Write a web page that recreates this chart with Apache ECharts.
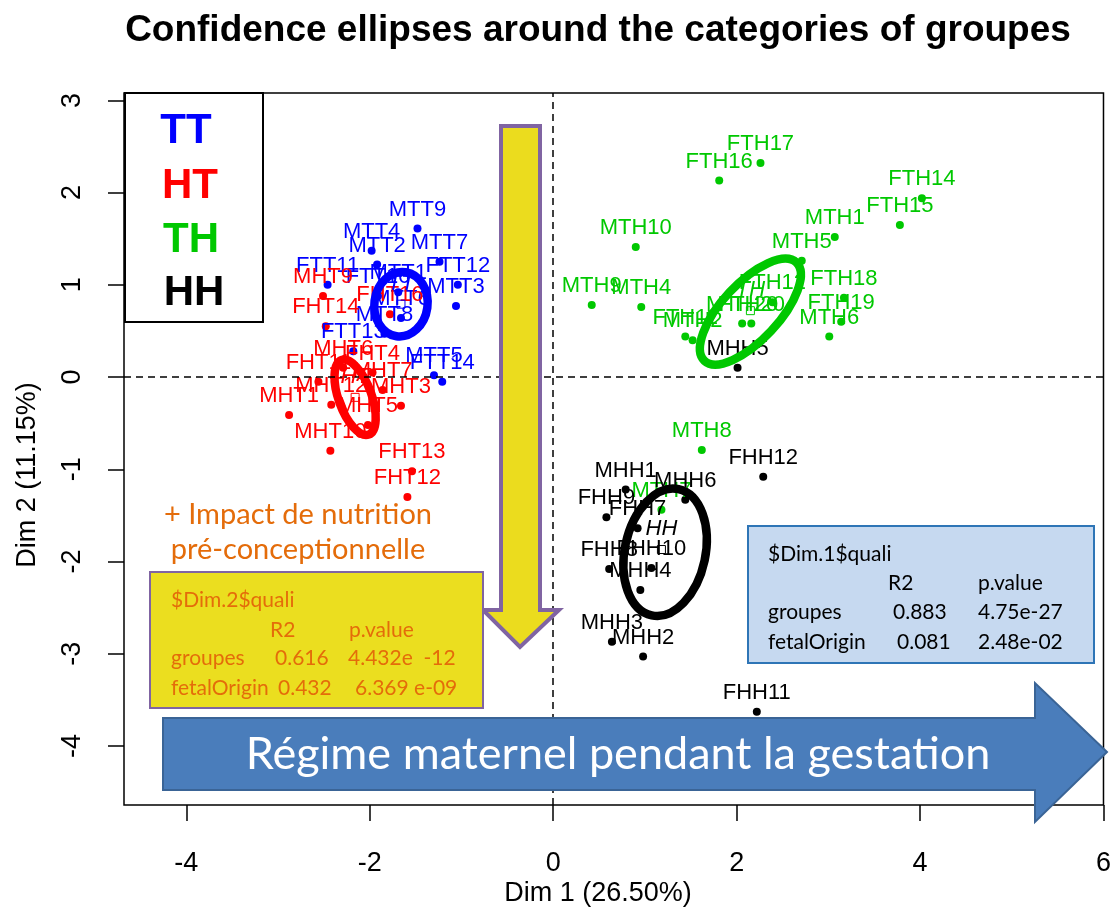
<!DOCTYPE html>
<html>
<head>
<meta charset="utf-8">
<script src="https://cdn.jsdelivr.net/npm/echarts@6/dist/echarts.min.js"></script>
<style>html,body{margin:0;padding:0;background:#fff;}#chart{width:1114px;height:911px;}</style>
</head>
<body>
<div id="chart"></div>
<script>
// ---------- DATA ----------
const xTicks = [-4, -2, 0, 2, 4, 6];
const yTicks = [-4, -3, -2, -1, 0, 1, 2, 3];
const groupNames = ['TT', 'HT', 'TH', 'HH'];

const ttNames = ['MTT9','MTT4','MTT2','MTT7','FTT12','FTT11','FTT10','MTT1','MTT3','MTT6','MTT8','FTT13','MTT5','FTT14'];
const ttX = [-1.48,-1.98,-1.92,-1.24,-1.04,-2.46,-1.91,-1.69,-1.06,-1.66,-1.84,-2.18,-1.30,-1.21];
const ttY = [1.61,1.37,1.22,1.25,1.00,1.00,0.88,0.92,0.77,0.64,0.47,0.28,0.02,-0.05];

const htNames = ['MHT9','FHT14','FHT16','MHT6','FHT4','FHT11','MHT7','MHT12','MHT3','MHT1','MHT5','MHT10','FHT13','FHT12'];
const htX = [-2.51,-2.48,-1.78,-2.29,-1.97,-2.56,-1.86,-2.42,-1.66,-2.88,-2.02,-2.43,-1.54,-1.59];
const htY = [0.88,0.55,0.68,0.10,0.05,-0.05,-0.14,-0.30,-0.31,-0.41,-0.52,-0.80,-1.02,-1.30];

const thNames = ['FTH17','FTH16','FTH14','FTH15','MTH1','MTH10','MTH5','FTH18','FTH19','MTH6','MTH9','MTH4','MTH2','FTH11','FTH12','MTH20','FTH20','MTH8','MTH7'];
const thX = [2.26,1.81,4.02,3.78,3.07,0.90,2.71,3.17,3.14,3.01,0.42,0.96,1.52,1.44,2.39,2.06,2.16,1.62,1.18];
const thY = [2.32,2.13,1.94,1.65,1.52,1.41,1.26,0.86,0.60,0.44,0.78,0.76,0.40,0.44,0.81,0.58,0.58,-0.79,-1.44];

const hhNames = ['MHH5','FHH12','MHH1','MHH6','FHH9','FHH7','FHH8','FHH10','MHH4','MHH3','MHH2','FHH11'];
const hhX = [2.01,2.29,0.79,1.44,0.58,0.92,0.61,1.07,0.95,0.64,0.98,2.22];
const hhY = [0.10,-1.08,-1.22,-1.33,-1.52,-1.64,-2.08,-2.07,-2.31,-2.87,-3.03,-3.63];

// category barycentres
const centerX = [-1.66, -2.16, 2.15, 1.18];
const centerY = [0.79, -0.22, 0.72, -1.87];
// confidence ellipses: centre x, centre y, semi-axis x, semi-axis y, rotation (deg)
const ellCX = [-1.66, -2.16, 2.15, 1.22];
const ellCY = [0.79, -0.22, 0.71, -1.90];
const ellRX = [0.29, 0.18, 0.31, 0.44];
const ellRY = [0.35, 0.43, 0.73, 0.70];
const ellRot = [-8, 20, -43, -12];

const dim2Rows = [['$Dim.2$quali','',''],['','R2','p.value'],['groupes','0.616','4.432e  -12'],['fetalOrigin','0.432','6.369 e-09']];
const dim1Rows = [['$Dim.1$quali','',''],['','R2','p.value'],['groupes','0.883','4.75e-27'],['fetalOrigin','0.081','2.48e-02']];

// ---------- STYLE ----------
const colors = ['#0000ff', '#ff0000', '#00c800', '#000000'];
const FONT = 'Liberation Sans, Arial, sans-serif';
const OFFICE = 'Lato, Open Sans, sans-serif';

function pts(xs, ys, names) { return xs.map((x, i) => ({ name: names[i], value: [x, ys[i]] })); }

function pointSeries(xs, ys, names, color) {
  return {
    type: 'scatter', data: pts(xs, ys, names), symbol: 'circle', symbolSize: 8,
    itemStyle: { color: color, opacity: 1 }, silent: true,
    label: { show: true, position: 'top', distance: 4, formatter: p => p.name, color: color, fontSize: 22, fontFamily: FONT, opacity: 1 },
    z: 3
  };
}

const series = [];
series.push({
  type: 'line', data: [], silent: true,
  markLine: { symbol: 'none', silent: true, label: { show: false },
    lineStyle: { color: '#000', type: [7, 5], width: 1.5 },
    data: [{ xAxis: 0 }, { yAxis: 0 }] }
});
const groupsX = [ttX, htX, thX, hhX], groupsY = [ttY, htY, thY, hhY], groupsN = [ttNames, htNames, thNames, hhNames];
for (let g = 0; g < 4; g++) series.push(pointSeries(groupsX[g], groupsY[g], groupsN[g], colors[g]));
series.push({
  type: 'custom', silent: true, z: 4,
  data: ellCX.map((c, i) => [c, ellCY[i], ellRX[i], ellRY[i], ellRot[i], i]),
  renderItem: function (params, api) {
    const c = api.coord([api.value(0), api.value(1)]);
    const s = api.size([api.value(2), api.value(3)]);
    return { type: 'ellipse', x: c[0], y: c[1], rotation: api.value(4) * Math.PI / 180,
      shape: { cx: 0, cy: 0, rx: s[0], ry: s[1] },
      style: { fill: 'none', stroke: colors[api.value(5)], lineWidth: 8.5 } };
  }
});
series.push({
  type: 'scatter', silent: true, z: 5, symbol: 'rect', symbolSize: 8,
  data: centerX.map((x, i) => ({ name: groupNames[i], value: [x, centerY[i]], itemStyle: { color: 'rgba(0,0,0,0)', borderColor: colors[i], borderWidth: 1, opacity: 1 },
    label: { color: colors[i] } })),
  label: { show: true, position: 'top', distance: 5, formatter: p => p.name, fontSize: 22, fontStyle: 'italic', fontFamily: FONT }
});

// ---------- GRAPHICS ----------
const graphics = [];
graphics.push({ type: 'text', x: 598, y: 31, style: { text: 'Confidence ellipses around the categories of groupes', font: 'bold 37px ' + FONT, fill: '#000', textAlign: 'center', textVerticalAlign: 'middle' } });
graphics.push({ type: 'text', x: 598, y: 894, style: { text: 'Dim 1 (26.50%)', font: '27px ' + FONT, fill: '#000', textAlign: 'center', textVerticalAlign: 'middle' } });
graphics.push({ type: 'text', x: 28, y: 475, rotation: Math.PI / 2, style: { text: 'Dim 2 (11.15%)', font: '27px ' + FONT, fill: '#000', textAlign: 'center', textVerticalAlign: 'middle' } });
graphics.push({ type: 'rect', shape: { x: 125, y: 93, width: 138, height: 229 }, style: { fill: '#fff', stroke: '#000', lineWidth: 2 }, z: 10 });
const legY = [131, 186, 240, 293], legX = [186, 190, 191, 194];
for (let i = 0; i < 4; i++) graphics.push({ type: 'text', x: legX[i], y: legY[i], z: 11, style: { text: groupNames[i], font: 'bold 42px ' + FONT, fill: colors[i], textAlign: 'center', textVerticalAlign: 'middle' } });
graphics.push({ type: 'polygon', z: 10, shape: { points: [[501,126],[540,126],[540,610],[559,610],[520,647],[483,610],[501,610]] }, style: { fill: '#ebdc1e', stroke: '#8064a2', lineWidth: 4 } });
graphics.push({ type: 'text', x: 298, y: 515, z: 11, style: { text: '+ Impact de nutrition', font: '29px ' + OFFICE, fill: '#e46c0a', textAlign: 'center', textVerticalAlign: 'middle' } });
graphics.push({ type: 'text', x: 298, y: 550, z: 11, style: { text: 'pré-conceptionnelle', font: '29px ' + OFFICE, fill: '#e46c0a', textAlign: 'center', textVerticalAlign: 'middle' } });
graphics.push({ type: 'rect', z: 12, shape: { x: 150, y: 572, width: 333, height: 136 }, style: { fill: '#ebde1f', stroke: '#8064a2', lineWidth: 2 } });
const d2Y = [600, 630, 658, 688];
const d2Xr = [[171,0,0],[0,270,349],[171,275,348],[171,278,355]];
for (let r = 0; r < 4; r++) for (let c = 0; c < 3; c++) if (dim2Rows[r][c]) graphics.push({ type: 'text', z: 13, x: d2Xr[r][c], y: d2Y[r], style: { text: dim2Rows[r][c], font: '21px ' + OFFICE, fill: '#e46c0a', textAlign: 'left', textVerticalAlign: 'middle' } });
graphics.push({ type: 'rect', z: 12, shape: { x: 748, y: 526, width: 346, height: 137 }, style: { fill: '#c6d9f0', stroke: '#2e75b6', lineWidth: 2 } });
const d1Y = [554, 583, 612, 642];
const d1Xr = [[768,0,0],[0,888,978],[768,893,978],[768,897,978]];
for (let r = 0; r < 4; r++) for (let c = 0; c < 3; c++) if (dim1Rows[r][c]) graphics.push({ type: 'text', z: 13, x: d1Xr[r][c], y: d1Y[r], style: { text: dim1Rows[r][c], font: '21px ' + OFFICE, fill: '#000', textAlign: 'left', textVerticalAlign: 'middle' } });
graphics.push({ type: 'polygon', z: 10, shape: { points: [[163,718],[1035,718],[1035,683],[1107,752],[1035,822],[1035,790],[163,790]] }, style: { fill: '#4a7dbb', stroke: '#3a6496', lineWidth: 2 } });
graphics.push({ type: 'text', z: 11, x: 618, y: 754, style: { text: 'Régime maternel pendant la gestation', font: '45px ' + OFFICE, fill: '#fff', textAlign: 'center', textVerticalAlign: 'middle' } });

const chart = echarts.init(document.getElementById('chart'), null, { renderer: 'canvas' });
chart.setOption({
  animation: false,
  backgroundColor: '#fff',
  grid: { left: 124, top: 93, width: 988, height: 712, show: true, borderColor: '#000', borderWidth: 1.5, backgroundColor: 'transparent' },
  xAxis: {
    type: 'value', min: -4.68, max: 6.0,
    axisLine: { show: false, onZero: false }, splitLine: { show: false },
    axisTick: { show: true, inside: false, length: 16, lineStyle: { color: '#000', width: 1.5 }, customValues: xTicks },
    axisLabel: { customValues: xTicks, margin: 45, fontSize: 27, color: '#000', fontFamily: FONT, formatter: v => String(v) }
  },
  yAxis: {
    type: 'value', min: -4.64, max: 3.08,
    axisLine: { show: false, onZero: false }, splitLine: { show: false },
    axisTick: { show: true, inside: false, length: 16, lineStyle: { color: '#000', width: 1.5 }, customValues: yTicks },
    axisLabel: { customValues: yTicks, margin: 38, rotate: 90, fontSize: 27, color: '#000', fontFamily: FONT, formatter: v => String(v) }
  },
  series: series,
  graphic: { elements: graphics }
});
</script>
</body>
</html>
